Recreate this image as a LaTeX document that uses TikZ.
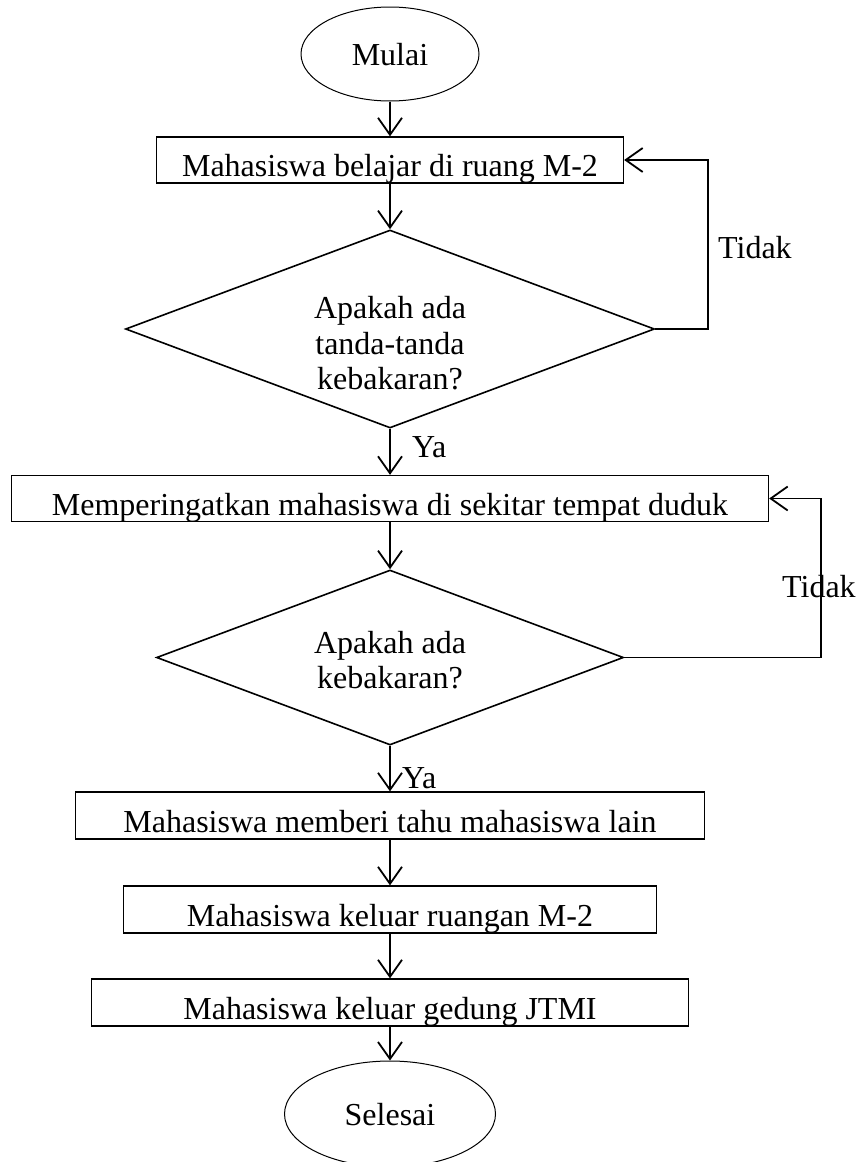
\documentclass[tikz,border=0pt]{standalone}
\usepackage{fontspec}
\setmainfont{Liberation Serif}
\usetikzlibrary{shapes.geometric,arrows.meta,calc}
\begin{document}
\begin{tikzpicture}[x=1pt,y=-1pt,
  every node/.style={font=\fontsize{32}{35.5}\selectfont, inner sep=0pt},
  proc/.style={draw, line width=1.3pt, rectangle, minimum height=46pt, text height=33pt, text depth=0pt},
  term/.style={draw, line width=1pt, ellipse, text height=22pt, text depth=0pt},
  dec/.style={draw, line width=1.6pt, diamond},
  txt/.style={align=center},
  conn/.style={line width=1.8pt, -{Straight Barb[length=17pt,width=24pt]}},
  lbl/.style={anchor=west}]
\useasboundingbox (0,0) rectangle (856,1162);
\clip (0,0) rectangle (856,1162);

\node[term, minimum width=178pt, minimum height=94pt] (start) at (390,54) {Mulai};
\node[proc, minimum width=467pt] (b1) at (390,160) {Mahasiswa belajar di ruang M-2};
\node[dec, minimum width=529pt, minimum height=198pt] (d1) at (390,329) {};
\node[txt] (d1t) at (390,343.5) {Apakah ada\\tanda-tanda\\kebakaran?};
\node[proc, minimum width=757pt] (b2) at (390,498.5) {Memperingatkan mahasiswa di sekitar tempat duduk};
\node[dec, minimum width=467pt, minimum height=175pt] (d2) at (390,657.5) {};
\node[txt] (d2t) at (390,660) {Apakah ada\\kebakaran?};
\node[proc, minimum width=629pt, minimum height=47pt] (b3) at (390,815.5) {Mahasiswa memberi tahu mahasiswa lain};
\node[proc, minimum width=533pt, minimum height=47pt] (b4) at (390,909.5) {Mahasiswa keluar ruangan M-2};
\node[proc, minimum width=597pt, minimum height=47pt] (b5) at (390,1002.5) {Mahasiswa keluar gedung JTMI};
\node[term, minimum width=211pt, minimum height=106pt] (end) at (390,1114) {Selesai};

\node[lbl] (ya1) at (412,447) {Ya};
\node[lbl] (ya2) at (402,778) {Ya};
\node[lbl] (tidak1) at (718,247.5) {Tidak};
\node[lbl] (tidak2) at (782,587) {Tidak};

\draw[conn] (start) -- (b1);
\draw[conn] (b1) -- (d1);
\draw[conn] (d1) -- (b2);
\draw[conn] (b2) -- (d2);
\draw[conn] (d2) -- (b3);
\draw[conn] (b3) -- (b4);
\draw[conn] (b4) -- (b5);
\draw[conn] (b5) -- (end);
\draw[conn] (d1.east) -- ++(53,0) |- (b1.east);
\draw[conn] (d2.east) -- ++(197,0) |- (b2.east);
\end{tikzpicture}
\end{document}
